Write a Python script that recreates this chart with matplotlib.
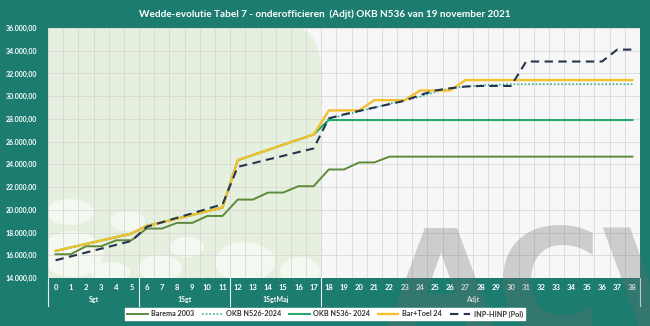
import matplotlib
matplotlib.use("Agg")
import matplotlib.pyplot as plt
from matplotlib.patches import FancyBboxPatch, Ellipse
from matplotlib.transforms import blended_transform_factory

plt.rcParams["font.family"] = ["Lato", "DejaVu Sans"]

steps = list(range(39))

barema_2003 = [16090, 16090, 16790, 16790, 17320, 17320, 18350, 18350, 18850, 18850,
               19460, 19460, 20900, 20900, 21520, 21520, 22080, 22080, 23550, 23550,
               24170, 24170] + [24680] * 17

bar_toel_24 = [16380, 16690, 16990, 17300, 17600, 17910, 18580, 18900, 19230, 19550,
               19880, 20200, 24370, 24820, 25270, 25730, 26180, 26630,
               28750, 28750, 28750, 29650, 29650, 29650, 30500, 30500, 30500] + [31420] * 12

okb_n536 = bar_toel_24[:18] + [27900] * 21

okb_n526 = bar_toel_24[:18] + [28000, 28330, 28660, 29000, 29330, 29660, 29950, 30350,
                               30700, 30850, 30950, 31000] + [31050] * 9

inp_hinp = [15560, 15900, 16240, 16580, 16920, 17260, 18500, 18900, 19300, 19690,
            20090, 20490, 23780, 24100, 24430, 24750, 25080, 25400,
            28050, 28400, 28700, 29000, 29300, 29600, 30100, 30500, 30700, 30850,
            30900, 30900, 30900] + [33050] * 6 + [34100, 34100]

groups = ["Sgt", "1Sgt", "1SgtMaj", "Adjt"]
group_bounds = [(0, 5), (6, 11), (12, 17), (18, 37)]

TEAL = "#1c7c70"


def euro(v):
    s = f"{v:,.2f}"
    return s.replace(",", "X").replace(".", ",").replace("X", ".")


fig = plt.figure(figsize=(6.5, 3.26), dpi=100, facecolor=TEAL)
ax = fig.add_axes([48 / 650, 48 / 326, 592 / 650, 250 / 326])
ax.set_facecolor("#f7f7f7")
ax.set_xlim(-0.5, 38.5)
ax.set_ylim(14000, 36000)

# green rank band behind the first three grades, rounded at its top right
rx = 28 / 592
band = FancyBboxPatch((-0.2, -0.5), 0.2 + 18 / 39, 1.5, transform=ax.transAxes,
                      boxstyle=f"round,pad=0,rounding_size={rx}",
                      mutation_aspect=(48 / 250) / rx,
                      facecolor="#e6f0de", edgecolor="none", zorder=0)
ax.add_patch(band)
for cx, cy, w, h in [(70, 212, 48, 26), (128, 221, 34, 20), (72, 254, 62, 46),
                     (187, 247, 34, 20), (160, 268, 44, 26), (245, 262, 60, 40),
                     (300, 272, 40, 30), (110, 272, 40, 20)]:
    e = Ellipse(((cx - 48) / 592, (278 - cy) / 250), w / 592, h / 250,
                transform=ax.transAxes, facecolor="white", edgecolor="none",
                alpha=0.55, zorder=0.5)
    ax.add_patch(e)

ax.set_xticks([i + 0.5 for i in range(-1, 39)], minor=True)
ax.grid(True, which="minor", axis="x", color="#d8d8d8", lw=0.6)
ax.set_yticks(range(14000, 36001, 2000))
ax.grid(True, which="major", axis="y", color="#d8d8d8", lw=0.6)
ax.set_axisbelow(True)
for s in ax.spines.values():
    s.set_visible(False)

ax.plot(steps, barema_2003, color="#5e8a3c", lw=1.4, label="Barema 2003", zorder=3)
ax.plot(steps, okb_n526, color="#2fb08e", lw=1.2, ls=(0, (1, 1.2)), label="OKB N526-2024", zorder=3)
ax.plot(steps, okb_n536, color="#27a86c", lw=1.5, label="OKB N536- 2024", zorder=3)
ax.plot(steps, bar_toel_24, color="#f2c12e", lw=1.7, label="Bar+Toel 24", zorder=3)
ax.plot(steps, inp_hinp, color="#26344f", lw=1.5, ls=(0, (4, 2.6)), label="INP-HINP (Pol)", zorder=3)

ax.set_yticklabels([euro(v) for v in range(14000, 36001, 2000)])
ax.tick_params(axis="y", length=0, pad=8, labelsize=5, labelcolor="white")
for t in ax.get_yticklabels():
    t.set_fontweight("bold")
ax.set_xticks(steps)
ax.set_xticklabels([str(i) for i in steps])
ax.tick_params(axis="x", which="both", length=0, pad=4, labelsize=5.5, labelcolor="white")
for t in ax.get_xticklabels():
    t.set_fontweight("bold")

trans = blended_transform_factory(ax.transData, ax.transAxes)
for name, (a, b) in zip(groups, group_bounds):
    ax.text((a + b) / 2, -0.085, name, transform=trans, ha="center", va="center",
            color="white", fontsize=5, fontweight="bold")
for xb in [-0.5, 5.5, 11.5, 17.5, 38.5]:
    ax.plot([xb, xb], [0, -0.11], transform=trans, color="#e8f0ee", lw=0.8, clip_on=False)

fig.text(0.5, 1 - 14 / 326, "Wedde-evolutie Tabel 7 - onderofficieren  (Adjt) OKB N536 van 19 november 2021",
         ha="center", va="center", color="white", fontsize=7.2, fontweight="bold")

leg = fig.legend(loc="center", bbox_to_anchor=(325 / 650, 12 / 326), ncol=5, fontsize=5.2,
                 frameon=True, fancybox=False, facecolor="white", edgecolor="white",
                 framealpha=1, handlelength=2.8, columnspacing=1.1, borderpad=0.35,
                 handletextpad=0.5)
for t in leg.get_texts():
    t.set_color("#333333")
    t.set_fontweight("bold")

fig.text(384 / 650, -7 / 326, "ACV", family=["Liberation Sans Narrow", "DejaVu Sans"],
         fontsize=104, fontweight="bold", color="#6e6e6e", alpha=0.3, va="baseline",
         ha="left", zorder=5)

fig.savefig("out.png", dpi=100, facecolor=TEAL)
